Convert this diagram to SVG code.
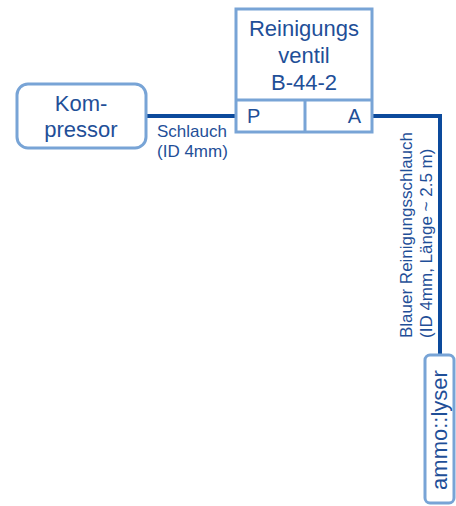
<svg xmlns="http://www.w3.org/2000/svg" width="456" height="506" viewBox="0 0 456 506">
<style>
.box{fill:#ffffff;stroke:#78a4d6;stroke-width:3}
.div{stroke:#78a4d6;stroke-width:3;fill:none}
.t{font-family:"Liberation Sans",Arial,sans-serif;fill:#1f4f98}
.big{font-size:22px}
.port{font-size:20px}
.lbl{font-size:17px}
.conn{fill:none;stroke:#0c4a9c;stroke-width:4;stroke-linejoin:miter}
</style>
<rect width="456" height="506" fill="#ffffff"/>
<g id="connectors">
<path class="conn" d="M146 116 H236"/>
<path class="conn" d="M372 116 H440 V355"/>
<text class="t lbl" x="157" y="137">Schlauch</text>
<text class="t lbl" x="157" y="157">(ID 4mm)</text>
<text class="t lbl" transform="translate(412,338) rotate(-90)">Blauer Reinigungsschlauch</text>
<text class="t lbl" transform="translate(432,338) rotate(-90)">(ID 4mm, Länge ~ 2.5 m)</text>
</g>
<g id="kompressor">
<rect class="box" x="17" y="84" width="129" height="64" rx="11" ry="11"/>
<text class="t big" x="81" y="111" text-anchor="middle">Kom-</text>
<text class="t big" x="81" y="137" text-anchor="middle">pressor</text>
</g>
<g id="ventil">
<rect class="box" x="236" y="9" width="136" height="123"/>
<path class="div" d="M236 100 H372 M305 100 V132"/>
<text class="t big" x="304" y="36" text-anchor="middle">Reinigungs</text>
<text class="t big" x="304" y="63" text-anchor="middle">ventil</text>
<text class="t big" x="304" y="90" text-anchor="middle">B-44-2</text>
<text class="t port" x="247" y="123">P</text>
<text class="t port" x="361" y="123" text-anchor="end">A</text>
</g>
<g id="ammolyser">
<rect class="box" x="425" y="355" width="29" height="148" rx="5" ry="5"/>
<text class="t big" text-anchor="middle" transform="translate(447,430) rotate(-90)">ammo::lyser</text>
</g>
</svg>
